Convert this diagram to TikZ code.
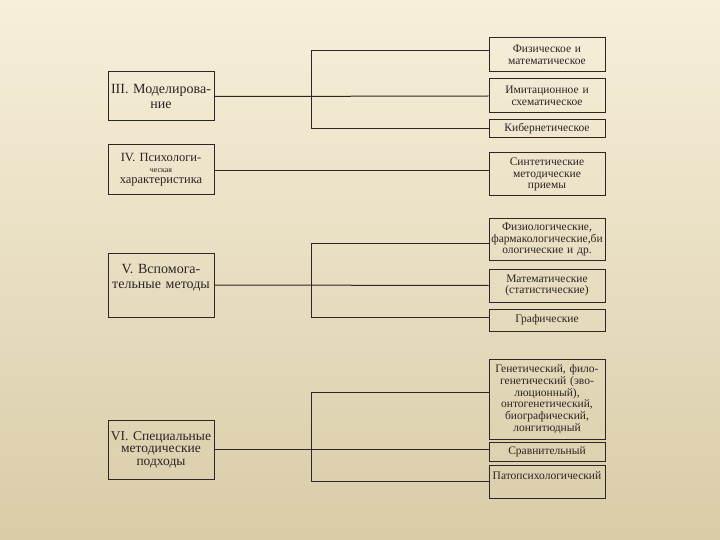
\documentclass[tikz,border=0pt]{standalone}
\usepackage{fontspec}
\setmainfont{Liberation Serif}
\begin{document}
\begin{tikzpicture}[x=1pt,y=-1pt,
  box/.style={draw=linec, line width=1pt, inner sep=0.5pt, align=center, text=textc},
  lbox/.style={box, minimum width=106pt, text width=105pt, font=\fontsize{14}{15.5}\selectfont},
  rbox/.style={box, minimum width=116pt, text width=115pt, font=\fontsize{11.5}{11.7}\selectfont},
  link/.style={draw=linec, line width=1pt}]
\definecolor{linec}{HTML}{2E2626}
\definecolor{textc}{HTML}{2A2424}
\definecolor{bgtop}{HTML}{F7EFDA}
\definecolor{bgmid}{HTML}{F0E6CB}
\definecolor{bgbot}{HTML}{D9CCA8}
\useasboundingbox (0,0) rectangle (720,540);
\shade[top color=bgtop, middle color=bgmid, bottom color=bgbot] (0,0) rectangle (720,540);

% left boxes
\node[lbox, minimum height=50pt, font=\fontsize{12.5}{11}\selectfont] (IV) at (161,170) {IV. Психологи-\\{\fontsize{8}{11}\selectfont ческая}\\характеристика};
\node[lbox, minimum height=49pt] (III) at (161,96.5) {III. Моделирова-\\ние};
\node[lbox, minimum height=64pt] (V) at (161,285) {V. Вспомога-\\тельные методы\\[2pt]\mbox{}};
\node[lbox, minimum height=59pt, font=\fontsize{13.5}{12.5}\selectfont] (VI) at (161,449.5) {VI. Специальные\\методические\\подходы};

% right boxes
\node[rbox, minimum height=34pt] (R1) at (547,55) {Физическое и\\математическое};
\node[rbox, minimum height=34pt] (R2) at (547,96) {Имитационное и\\схематическое};
\node[rbox, minimum height=18pt] (R3) at (547,129) {Кибернетическое};
\node[rbox, minimum height=43pt] (R4) at (547,174.5) {Синтетические\\методические\\приемы};
\node[rbox, minimum height=41pt] (R5) at (547,239.5) {Физиологические,\\фармакологические,би\\ологические и др.};
\node[rbox, minimum height=33pt] (R6) at (547,285.5) {Математические\\(статистические)};
\node[rbox, minimum height=22pt] (R7) at (547,320) {Графические};
\node[rbox, minimum height=80pt] (R8) at (547,399) {Генетический, фило-\\генетический (эво-\\люционный),\\онтогенетический,\\биографический,\\лонгитюдный};
\node[rbox, minimum height=19pt] (R9) at (547,451.5) {Сравнительный};
\node[rbox, minimum height=33pt] (R10) at (547,481.5) {Патопсихологический\\\mbox{}};

% connectors
\coordinate (j1) at (311,51);
\coordinate (j3) at (311,243);
\coordinate (j4) at (311,392);
\draw[link] (III.east) -- (R2.west);
\draw[link] (R1.west |- j1) -- (j1) -- (j1 |- R3.west) -- (R3.west);
\draw[link] (IV.east |- 0,171) -- (R4.west |- 0,171);
\draw[link] (V.east) -- (R6.west);
\draw[link] (R5.west |- j3) -- (j3) -- (j3 |- 0,317) -- (R7.west |- 0,317);
\draw[link] (VI.east |- 0,449) -- (R9.west |- 0,449);
\draw[link] (R8.west |- j4) -- (j4) -- (j4 |- R10.west) -- (R10.west);
\end{tikzpicture}
\end{document}
